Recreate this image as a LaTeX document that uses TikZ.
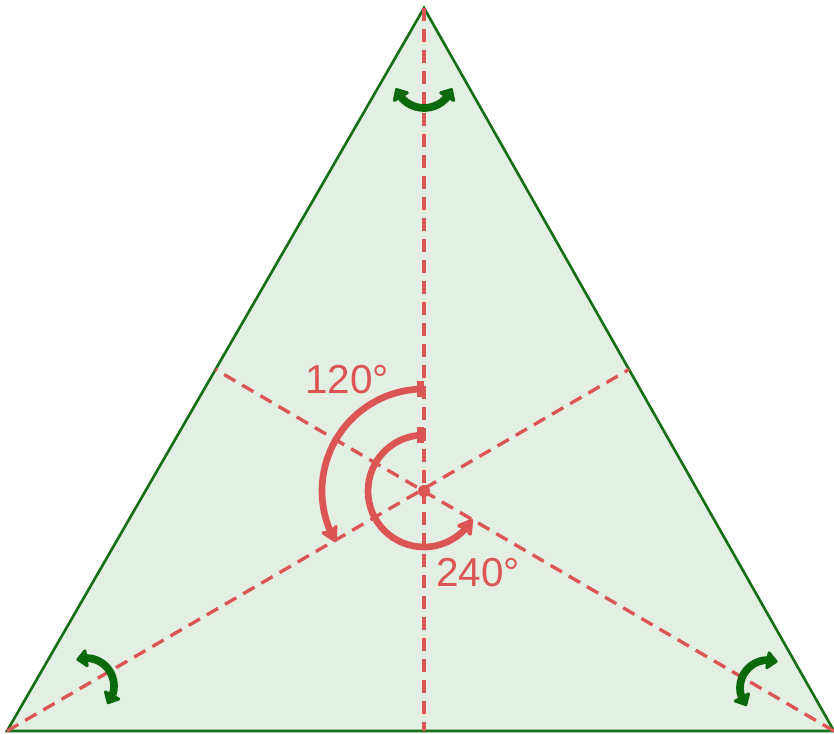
\documentclass[tikz,border=0pt]{standalone}
\usepackage{fontspec}
\setmainfont{Liberation Sans}
\usetikzlibrary{arrows.meta, bending}

\definecolor{edgegreen}{RGB}{22,110,22}
\definecolor{facegreen}{RGB}{228,239,228}
\definecolor{flipgreen}{RGB}{10,105,10}
\definecolor{axisred}{RGB}{220,85,85}

\begin{document}
\begin{tikzpicture}[
  x=0.01cm, y=0.01cm,
  side/.style={draw=edgegreen, fill=facegreen, line width=0.75pt},
  axis/.style={draw=axisred, line width=0.95pt, dash pattern=on 0.13cm off 0.08cm},
  turn/.style={draw=axisred, line width=1.9pt, {Bar[width=0.15cm]}-{Stealth[round, length=0.19cm, width=0.22cm, inset=0.05cm]}},
  flip/.style={draw=flipgreen, line width=2.2pt, {Triangle[round, length=0.12cm, width=0.21cm]}-{Triangle[round, length=0.12cm, width=0.21cm]}},
  deg/.style={text=axisred, font=\fontsize{11.5}{13}\selectfont, inner sep=0pt}
]
\useasboundingbox (0,0) rectangle (834,733);

\coordinate (top) at (424,725);
\coordinate (left) at (7,2);
\coordinate (right) at (834,2);
\coordinate (centre) at (424,242);
\coordinate (foot) at (424,2);
\coordinate (midleft) at (215.5,363.5);
\coordinate (midright) at (629,363.5);

% triangle
\draw[side] (top) -- (left) -- (right) -- cycle;

% mirror axes
\draw[axis] (top) -- (foot);
\draw[axis] (left) -- (midright);
\draw[axis] (right) -- (midleft);
\fill[axisred] (centre) circle[radius=6];

% rotations
\draw[turn] (centre) ++(90:102) arc[start angle=90, end angle=210, radius=102];
\draw[turn] (centre) ++(90:56) arc[start angle=90, end angle=330, radius=56];
\node[deg] (onethird) at (347,353) {120°};
\node[deg] (twothirds) at (478,160) {240°};

% flips
\draw[flip] (424,655) ++(200:30) arc[start angle=200, end angle=340, radius=30];
\draw[flip] (86,47) ++(110:28) arc[start angle=110, end angle=-40, radius=28];
\draw[flip] (768,45) ++(70:28) arc[start angle=70, end angle=220, radius=28];
\end{tikzpicture}
\end{document}
